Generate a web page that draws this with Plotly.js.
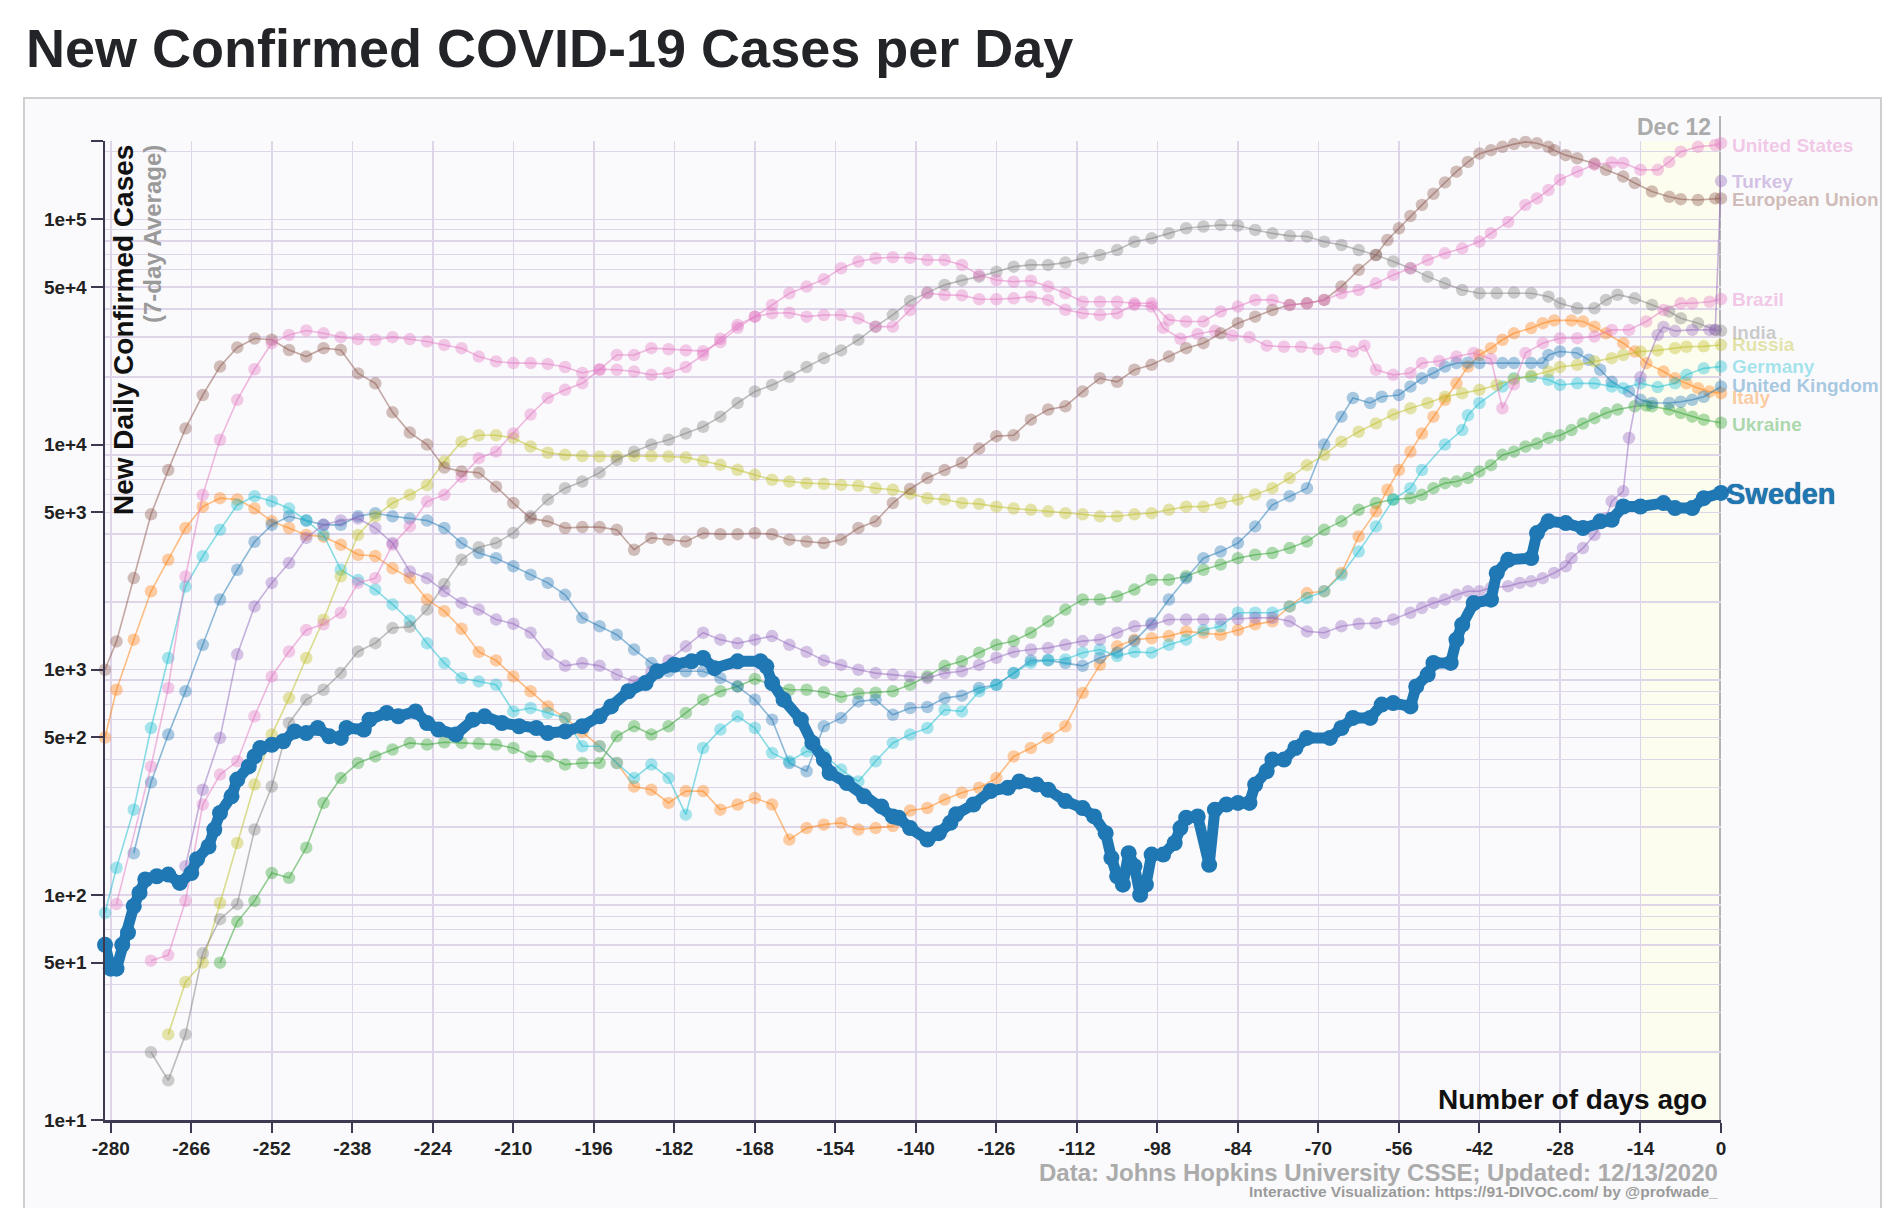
<!DOCTYPE html>
<html><head><meta charset="utf-8">
<script src="https://cdn.plot.ly/plotly-3.0.1.min.js"></script>
<style>html,body{margin:0;padding:0;background:#fff}#chart{width:1898px;height:1208px}</style>
</head><body><div id="chart"></div>
<script>
// ---------------- DATA (days ago, 7-day average new cases) ----------------
const xTickVals = [-280,-266,-252,-238,-224,-210,-196,-182,-168,-154,-140,-126,-112,-98,-84,-70,-56,-42,-28,-14,0];
const yTickVals = [10,50,100,500,1000,5000,10000,50000,100000];
const yTickText = ['1e+1','5e+1','1e+2','5e+2','1e+3','5e+3','1e+4','5e+4','1e+5'];
const yTop = 223000;
const lastDateLabel = 'Dec 12';

const swedenDays = [-281,-280,-279,-278,-277,-276,-275,-274,-272,-270,-268,-266,-265,-263,-262,-261,-259,-258,-256,-255,-254,-252,-250,-248,-246,-244,-242,-240,-239,-236,-235,-232,-230,-227,-225,-223,-220,-217,-215,-212,-209,-206,-204,-201,-198,-195,-193,-190,-187,-185,-182,-179,-177,-175,-171,-167,-166,-165,-163,-160,-158,-156,-155,-152,-149,-146,-144,-143,-141,-138,-136,-134,-133,-130,-127,-124,-122,-119,-117,-114,-111,-109,-107,-106,-105,-104,-103,-102,-101,-100,-99,-97,-95,-94,-93,-91,-89,-88,-86,-84,-82,-81,-79,-78,-76,-74,-72,-68,-66,-64,-61,-59,-57,-54,-53,-51,-50,-47,-46,-45,-43,-40,-39,-37,-33,-32,-30,-27,-24,-21,-19,-17,-14,-10,-8,-5,-3,0];
const swedenCases = [60,47,47,60,68,89,102,117,121,123,113,125,144,164,195,231,274,325,372,412,449,464,481,532,523,551,506,498,551,542,600,643,621,653,580,542,515,600,621,580,561,551,523,532,561,621,687,802,873,984,1052,1089,1127,1016,1089,1089,1035,873,736,600,473,399,348,314,274,247,223,220,198,176,188,209,228,252,289,299,319,309,293,261,243,223,188,146,121,111,153,134,100,111,151,151,170,198,220,223,136,239,252,256,256,309,354,399,399,449,498,498,551,611,611,700,711,687,843,951,1072,1072,1359,1585,1977,2046,2685,3076,3133,4045,4560,4479,4256,4560,4636,5309,5309,5496,5225,5225,5781,6100];

const usDays = [-279,-273,-270,-267,-264,-261,-258,-255,-252,-249,-246,-243,-240,-237,-234,-231,-228,-225,-222,-219,-216,-213,-210,-207,-204,-201,-198,-195,-192,-189,-186,-183,-180,-177,-174,-171,-168,-165,-162,-159,-156,-153,-150,-147,-144,-141,-138,-135,-132,-129,-126,-123,-120,-117,-114,-111,-108,-105,-102,-99,-96,-93,-90,-87,-84,-81,-78,-75,-72,-69,-66,-63,-60,-57,-54,-51,-48,-45,-42,-40,-37,-34,-32,-30,-28,-25,-22,-19,-17,-14,-11,-9,-7,-4,-1,0];
const usCases = [91,372,830,2594,5980,10500,15800,21600,28200,30700,32100,31200,30000,29400,29200,30000,29400,28700,27700,26800,24600,23400,23000,23000,22800,22100,20800,21600,21500,21100,20400,20800,22100,25000,29500,34000,37000,41700,47000,50300,54200,60700,65000,67200,67900,67500,66000,66000,62800,56600,53800,52900,53400,50300,47000,43100,43100,43100,42400,42400,35800,35200,35200,39000,41000,43900,43900,41700,42400,43900,47000,48600,52000,56600,60700,66000,70700,74400,79700,86800,97500,116000,124000,135000,150000,163000,175000,179000,178000,166000,166000,180000,200000,210000,214000,218000];

const brazilDays = [-273,-270,-267,-264,-261,-258,-255,-252,-249,-246,-243,-240,-237,-234,-231,-228,-225,-222,-219,-216,-213,-210,-207,-204,-201,-198,-195,-192,-189,-186,-183,-180,-177,-174,-171,-168,-165,-162,-159,-156,-153,-150,-147,-144,-141,-138,-135,-132,-129,-126,-123,-120,-117,-114,-111,-108,-105,-102,-99,-97,-94,-91,-88,-85,-82,-79,-76,-73,-70,-67,-64,-62,-60,-57,-54,-52,-49,-46,-43,-40,-38,-36,-34,-31,-28,-25,-22,-19,-16,-13,-10,-7,-5,-2,0];
const brazilCases = [51,54,94,252,342,392,621,934,1205,1500,1590,1790,2430,2550,3590,4330,5580,5980,7200,8700,9300,11200,13600,16100,17500,18700,21500,25000,25000,26800,26500,26200,26000,28500,33000,37000,38300,38500,37000,37600,37600,36400,33400,33400,39600,47000,46200,46000,44200,44200,44600,45400,43900,39700,38300,37600,38300,41700,41000,33000,29500,31000,32000,30500,30000,27500,27200,27200,26500,27200,25900,27500,21500,20400,20800,23000,23500,24600,25500,24000,14500,18500,25500,28200,29700,29700,30200,32300,32300,35200,39600,42400,42400,43100,44300];

const euDays = [-281,-279,-276,-273,-270,-267,-264,-261,-258,-255,-252,-249,-246,-243,-240,-237,-234,-231,-228,-225,-222,-219,-216,-213,-210,-207,-204,-201,-198,-195,-192,-189,-186,-183,-180,-177,-174,-171,-168,-165,-162,-159,-156,-153,-150,-147,-144,-141,-138,-135,-132,-129,-126,-123,-120,-117,-114,-111,-108,-105,-102,-99,-96,-93,-90,-87,-84,-81,-78,-75,-72,-69,-66,-63,-60,-58,-56,-54,-52,-50,-48,-46,-44,-42,-40,-38,-36,-34,-32,-30,-29,-27,-25,-22,-20,-17,-15,-12,-9,-7,-4,-1,0];
const euCases = [1000,1336,2553,4900,7700,11800,16600,22200,27000,29600,29200,26300,24600,26800,26300,20700,18700,13900,11300,10000,7900,7600,7500,6500,5500,4700,4560,4260,4300,4300,4180,3410,3850,3780,3710,4040,4000,4000,4040,4000,3780,3710,3650,3780,4260,4560,5500,6350,7100,7700,8300,9600,10900,11000,12900,14300,14800,17200,19700,19000,21500,22600,24600,26800,28200,31200,34600,37000,39600,41700,42400,43900,50300,59700,69500,81000,91300,103600,116000,130000,146000,163000,180000,196000,203000,210000,216000,221000,218000,210000,203000,193000,187000,177000,166000,155000,145000,133000,126000,123000,122000,124000,124000];

const indiaDays = [-273,-270,-267,-264,-261,-258,-255,-252,-249,-246,-243,-240,-237,-234,-231,-228,-225,-222,-219,-216,-213,-210,-207,-204,-201,-198,-195,-192,-189,-186,-183,-180,-177,-174,-171,-168,-165,-162,-159,-156,-153,-150,-147,-144,-141,-138,-135,-132,-129,-126,-123,-120,-117,-114,-111,-108,-105,-102,-99,-96,-93,-90,-87,-84,-81,-78,-75,-72,-69,-66,-63,-60,-57,-54,-51,-48,-45,-42,-39,-36,-33,-30,-28,-25,-22,-20,-18,-15,-12,-9,-7,-4,-1,0];
const indiaCases = [20,15,24,55,78,91,195,303,580,736,815,966,1205,1312,1531,1550,1850,2400,3080,3500,3650,4050,4800,5700,6400,6850,7500,8550,9300,10000,10500,11200,12000,13300,15300,17200,18400,20000,22100,24200,26200,29200,33400,37700,43400,47300,51200,53600,55700,58600,61700,62800,62800,64300,67200,69500,73100,79600,82400,86700,91400,93000,94500,94000,89800,86700,84500,84000,79600,77000,73100,69500,65000,60700,55700,52000,48600,47000,47000,47300,47000,45400,42400,40300,40300,43900,46300,44600,41700,39000,36400,34600,32300,32000];

const russiaDays = [-270,-267,-264,-261,-258,-255,-252,-249,-246,-243,-240,-237,-234,-231,-228,-225,-222,-219,-216,-213,-210,-207,-204,-201,-198,-195,-192,-189,-186,-183,-180,-177,-174,-171,-168,-165,-162,-159,-156,-153,-150,-147,-144,-141,-138,-135,-132,-129,-126,-123,-120,-117,-114,-111,-108,-105,-102,-99,-96,-93,-90,-87,-84,-81,-78,-75,-72,-69,-66,-63,-60,-57,-54,-51,-48,-45,-42,-39,-36,-33,-30,-28,-25,-22,-19,-17,-14,-11,-8,-6,-3,0];
const russiaCases = [24,41,50,92,170,309,515,748,1127,1667,2600,3970,4800,5500,5980,6600,8400,10300,11000,11000,10700,9800,9200,9000,8900,8850,8850,8900,8900,8850,8770,8470,8130,7720,7340,6970,6850,6740,6700,6620,6560,6400,6300,6050,5780,5700,5500,5450,5300,5200,5130,5050,4960,4900,4800,4800,4900,4960,5130,5300,5300,5500,5700,6000,6400,7100,8100,9000,10300,11400,12400,13600,14500,15300,16300,16900,17500,18400,19500,20200,21100,22100,22600,23400,24200,25000,25900,26200,26800,27200,27300,27700];

const germanyDays = [-281,-279,-276,-273,-270,-267,-264,-261,-258,-255,-252,-249,-246,-243,-240,-237,-234,-231,-228,-225,-222,-219,-216,-213,-210,-207,-204,-201,-198,-195,-192,-189,-186,-183,-180,-177,-174,-171,-168,-165,-162,-159,-156,-153,-150,-147,-144,-141,-138,-135,-132,-129,-126,-123,-120,-117,-114,-111,-108,-105,-102,-99,-96,-93,-90,-87,-84,-81,-78,-75,-72,-69,-66,-63,-60,-57,-54,-52,-48,-45,-44,-42,-38,-36,-33,-30,-28,-25,-22,-19,-17,-14,-11,-8,-6,-3,0];
const germanyCases = [83,132,239,551,1127,2340,3190,4180,5400,5900,5600,5200,4600,3970,2780,2500,2270,1950,1650,1310,1070,918,887,857,653,676,643,611,457,457,385,330,379,330,227,449,542,621,551,427,392,434,420,360,319,392,473,515,551,664,653,802,857,966,1072,1107,1110,1190,1230,1150,1200,1190,1290,1360,1500,1560,1790,1790,1790,1910,2080,2230,2640,3350,4330,5700,6400,7700,10000,11600,13500,15300,18100,19700,20000,19400,18400,18700,18700,18100,17800,18700,18000,18700,20400,21800,22200];

const ukDays = [-276,-273,-270,-267,-264,-261,-258,-255,-252,-249,-246,-243,-240,-237,-234,-231,-228,-225,-222,-219,-216,-213,-210,-207,-204,-201,-198,-195,-192,-189,-186,-183,-180,-177,-174,-171,-168,-165,-162,-159,-156,-153,-150,-147,-144,-141,-138,-135,-132,-129,-126,-123,-120,-117,-114,-111,-108,-105,-102,-99,-96,-93,-90,-87,-84,-81,-78,-75,-72,-69,-66,-64,-61,-59,-56,-54,-52,-50,-48,-46,-44,-42,-38,-36,-33,-31,-30,-28,-25,-23,-21,-19,-16,-14,-12,-9,-7,-5,-3,0];
const ukCases = [153,316,515,802,1290,2050,2780,3700,4400,4800,4600,4400,4400,4800,4960,4800,4700,4600,4260,3650,3300,3130,2880,2640,2430,2150,1700,1560,1430,1230,1070,984,984,984,918,843,736,600,385,354,561,611,723,736,631,676,683,748,767,830,857,966,1100,1100,1070,1040,1130,1190,1340,1610,2050,2550,3130,3350,3650,4330,5400,5900,6400,10000,13300,16100,15300,16300,16600,18100,19700,20800,22200,23000,23100,23000,23000,23000,23000,23000,25000,25900,25500,23800,21500,19000,17200,15800,15300,15300,15500,15800,16300,18100];

const italyDays = [-281,-279,-276,-273,-270,-267,-264,-261,-258,-255,-252,-249,-246,-243,-240,-237,-234,-231,-228,-225,-222,-219,-216,-213,-210,-207,-204,-201,-198,-195,-192,-189,-186,-183,-180,-177,-174,-171,-168,-165,-162,-159,-156,-153,-150,-147,-144,-141,-138,-135,-132,-129,-126,-123,-120,-117,-114,-111,-108,-105,-102,-99,-96,-93,-90,-87,-84,-81,-78,-75,-72,-69,-66,-63,-60,-58,-56,-54,-52,-50,-48,-46,-44,-42,-40,-38,-36,-33,-31,-29,-26,-24,-22,-20,-17,-15,-13,-10,-8,-6,-4,-2,0];
const italyCases = [500,815,1360,2230,3080,4260,5300,5780,5700,5200,4560,4260,3970,3900,3590,3240,3200,2820,2550,2050,1820,1520,1200,1100,934,802,687,611,530,457,385,303,293,256,289,289,239,252,269,252,176,198,205,209,195,198,202,237,243,265,284,299,330,412,449,498,561,789,1050,1270,1360,1380,1410,1480,1460,1430,1500,1590,1640,1910,2190,2230,2690,3910,5050,6300,7700,9300,11200,13300,15800,18700,22200,25000,26800,29200,31200,32900,34600,35600,35600,35200,33400,31200,28200,25900,23000,21100,19700,18700,17800,17200,16900];

const ukraineDays = [-261,-258,-255,-252,-249,-246,-243,-240,-237,-234,-231,-228,-225,-222,-219,-216,-213,-210,-207,-204,-201,-198,-195,-192,-189,-186,-183,-180,-177,-174,-171,-168,-165,-162,-159,-156,-153,-150,-147,-144,-141,-138,-135,-132,-129,-126,-123,-120,-117,-114,-111,-108,-105,-102,-99,-96,-93,-90,-87,-84,-81,-78,-75,-72,-69,-66,-63,-60,-57,-54,-52,-50,-48,-46,-44,-42,-40,-38,-36,-34,-32,-30,-28,-26,-24,-22,-20,-18,-15,-13,-12,-9,-7,-5,-3,0];
const ukraineCases = [50,76,94,125,119,162,256,330,385,412,442,473,465,476,473,470,465,449,412,412,379,385,385,506,561,515,561,643,736,802,843,910,857,815,815,794,757,784,790,802,857,935,1040,1090,1190,1290,1340,1460,1640,1850,2050,2050,2120,2270,2510,2510,2600,2780,2930,3130,3240,3300,3470,3710,4180,4560,5130,5500,5700,5780,5980,6400,6740,6860,7100,7600,8100,9000,9300,9800,10100,10700,11000,11600,12400,13100,13800,14300,14800,14900,14800,14300,13800,13300,12900,12500];

const turkeyDays = [-267,-264,-261,-258,-255,-252,-249,-246,-243,-240,-237,-234,-231,-228,-225,-222,-219,-216,-213,-210,-207,-204,-201,-198,-195,-192,-189,-186,-183,-180,-177,-174,-171,-168,-165,-162,-159,-156,-153,-150,-147,-144,-141,-138,-135,-132,-129,-126,-123,-120,-117,-114,-111,-108,-105,-102,-99,-96,-93,-90,-87,-84,-81,-78,-75,-72,-69,-66,-63,-60,-57,-54,-52,-50,-48,-46,-44,-42,-40,-37,-35,-33,-31,-29,-27,-26,-24,-22,-20,-19,-17,-16,-14,-11,-10,-8,-5,-2,-1,0];
const turkeyCases = [134,293,498,1170,1910,2430,2980,3850,4400,4600,4700,4260,3650,2730,2550,2230,1980,1850,1670,1600,1460,1170,1040,1070,1040,951,887,980,1100,1270,1460,1360,1310,1360,1410,1290,1200,1100,1050,1000,966,951,934,918,966,984,1050,1130,1200,1230,1250,1290,1340,1360,1460,1560,1580,1670,1670,1670,1670,1680,1700,1700,1640,1480,1460,1560,1600,1610,1670,1790,1880,1980,2050,2150,2230,2230,2310,2350,2430,2470,2550,2690,2880,3130,3470,3970,4710,5600,6200,10700,19900,30700,33300,32000,32300,32300,32300,148000];

// ---------------- STYLE / LAYOUT ----------------
const FONT = 'Liberation Sans, Arial, Helvetica, sans-serif';
const W = 1898, H = 1208;
const PL = 105, PR = 1721, PT = 141, PB = 1120;
const px2x = px => (px - PL) / (PR - PL);
const px2y = py => (PB - py) / (PB - PT);
function rgba(hex, a) {
  const n = parseInt(hex.slice(1), 16);
  return `rgba(${(n>>16)&255},${(n>>8)&255},${n&255},${a})`;
}

const series = [
  {name:'Ukraine', days:ukraineDays, cases:ukraineCases, color:'#2ca02c', dy:-2},
  {name:'Italy', days:italyDays, cases:italyCases, color:'#ff7f0e', dy:-4},
  {name:'United Kingdom', days:ukDays, cases:ukCases, color:'#1f77b4', dy:1},
  {name:'Germany', days:germanyDays, cases:germanyCases, color:'#17becf', dy:0},
  {name:'Russia', days:russiaDays, cases:russiaCases, color:'#bcbd22', dy:0},
  {name:'India', days:indiaDays, cases:indiaCases, color:'#7f7f7f', dy:-2},
  {name:'Brazil', days:brazilDays, cases:brazilCases, color:'#e377c2', dy:0},
  {name:'European Union', days:euDays, cases:euCases, color:'#8c564b', dy:-1},
  {name:'Turkey', days:turkeyDays, cases:turkeyCases, color:'#9467bd', dy:0},
  {name:'United States', days:usDays, cases:usCases, color:'#e377c2', dy:-2}
];
const highlight = {name:'Sweden', days:swedenDays, cases:swedenCases, color:'#1f77b4', dy:-1};

const traces = series.map(s => ({
  type:'scatter', mode:'lines+markers', x:s.days, y:s.cases, name:s.name,
  line:{color:rgba(s.color,0.5), width:1.6},
  marker:{color:rgba(s.color,0.38), size:12.5, line:{width:0}},
  cliponaxis:false, hoverinfo:'skip', showlegend:false
}));
traces.push({
  type:'scatter', mode:'lines+markers', x:highlight.days, y:highlight.cases, name:highlight.name,
  line:{color:highlight.color, width:11},
  marker:{color:highlight.color, size:16, line:{width:0}},
  cliponaxis:false, hoverinfo:'skip', showlegend:false
});

// minor log gridlines (2..9 x 10^k)
const minorVals = [];
for (let e = 1; e <= 5; e++) for (let m = 2; m <= 9; m++) {
  const v = m * Math.pow(10, e);
  if (v < yTop && yTickVals.indexOf(v) < 0) minorVals.push(v);
}

const annotations = [];
const ann = (o) => annotations.push(Object.assign({showarrow:false}, o));

ann({text:'New Confirmed COVID-19 Cases per Day', xref:'paper', yref:'paper', x:px2x(24), y:px2y(48), xanchor:'left', yanchor:'middle',
  font:{family:FONT, size:54, color:'#222428', weight:700}});
ann({text:'New Daily Confirmed Cases', textangle:-90, xref:'paper', yref:'paper', x:px2x(124), y:px2y(143), xanchor:'center', yanchor:'top',
  font:{family:FONT, size:28, color:'#111', weight:700}});
ann({text:'(7-day Average)', textangle:-90, xref:'paper', yref:'paper', x:px2x(153), y:px2y(143), xanchor:'center', yanchor:'top',
  font:{family:FONT, size:24, color:'#9a9a9a', weight:700}});
ann({text:'Number of days ago', xref:'paper', yref:'paper', x:px2x(1709), y:px2y(1099), xanchor:'right', yanchor:'middle',
  font:{family:FONT, size:28, color:'#111', weight:700}});
ann({text:lastDateLabel, xref:'x', yref:'paper', x:0, xshift:-8, y:px2y(127), xanchor:'right', yanchor:'middle',
  font:{family:FONT, size:23, color:'#ababab', weight:700}});
ann({text:'Data: Johns Hopkins University CSSE; Updated: 12/13/2020', xref:'paper', yref:'paper', x:px2x(1720), y:px2y(1172), xanchor:'right', yanchor:'middle',
  font:{family:FONT, size:24, color:'#ababab', weight:700}});
ann({text:'Interactive Visualization: https://91-DIVOC.com/ by @profwade_', xref:'paper', yref:'paper', x:px2x(1720), y:px2y(1191), xanchor:'right', yanchor:'middle',
  font:{family:FONT, size:15.5, color:'#9a9a9a', weight:700}});
series.forEach(s => {
  const last = s.cases[s.cases.length - 1];
  ann({text:s.name, xref:'x', yref:'y', x:s.days[s.days.length-1], y:Math.log10(last), xanchor:'left', yanchor:'middle',
    xshift:9, yshift:s.dy, font:{family:FONT, size:19, color:rgba(s.color,0.4), weight:700}});
});
ann({text:highlight.name, xref:'x', yref:'y', x:highlight.days[highlight.days.length-1], y:Math.log10(highlight.cases[highlight.cases.length-1]),
  xanchor:'left', yanchor:'middle', xshift:3, yshift:highlight.dy,
  font:{family:FONT, size:29, color:highlight.color, weight:700, shadow:'0 0 1px #0b3a63'}});

const shapes = [
  {type:'rect', xref:'paper', yref:'paper', x0:px2x(24), x1:px2x(1881), y0:px2y(1240), y1:px2y(98),
   fillcolor:'#fafafc', line:{color:'#cfcfcf', width:2}, layer:'below'},
  {type:'rect', xref:'x', yref:'paper', x0:-14, x1:0, y0:0, y1:1, fillcolor:'#fdfdef', line:{width:0}, layer:'below'},
  {type:'line', xref:'x', yref:'paper', x0:0, x1:0, y0:0, y1:px2y(116), line:{color:'#b3b3b3', width:4}, layer:'below'}
];

const axisColor = '#3e3850';
const gridColor = '#dfd5e8';
const layout = {
  width:W, height:H, autosize:false,
  paper_bgcolor:'#ffffff', plot_bgcolor:'rgba(0,0,0,0)',
  margin:{l:PL, r:W-PR, t:PT, b:H-PB, pad:0},
  showlegend:false,
  xaxis:{
    range:[-281, 0], tickmode:'array', tickvals:xTickVals, ticktext:xTickVals.map(String),
    ticks:'outside', ticklen:10, tickwidth:2, tickcolor:axisColor,
    showline:true, linecolor:axisColor, linewidth:2.5, zeroline:false,
    showgrid:true, gridcolor:gridColor, gridwidth:1.5,
    tickfont:{family:FONT, size:19, color:'#222', weight:700}, fixedrange:true
  },
  yaxis:{
    type:'log', range:[1, Math.log10(yTop)],
    tickmode:'array', tickvals:yTickVals.concat([yTop]), ticktext:yTickText.concat(['']),
    ticks:'outside', ticklen:12, tickwidth:2, tickcolor:axisColor,
    showline:true, linecolor:axisColor, linewidth:2.5, zeroline:false,
    showgrid:true, gridcolor:gridColor, gridwidth:1.5,
    minor:{tickmode:'array', tickvals:minorVals, ticks:'', showgrid:true, gridcolor:gridColor, gridwidth:1.5},
    tickfont:{family:FONT, size:19, color:'#222', weight:700}, fixedrange:true
  },
  annotations:annotations,
  shapes:shapes
};

Plotly.newPlot('chart', traces, layout, {displayModeBar:false, staticPlot:true});
</script>
</body></html>
